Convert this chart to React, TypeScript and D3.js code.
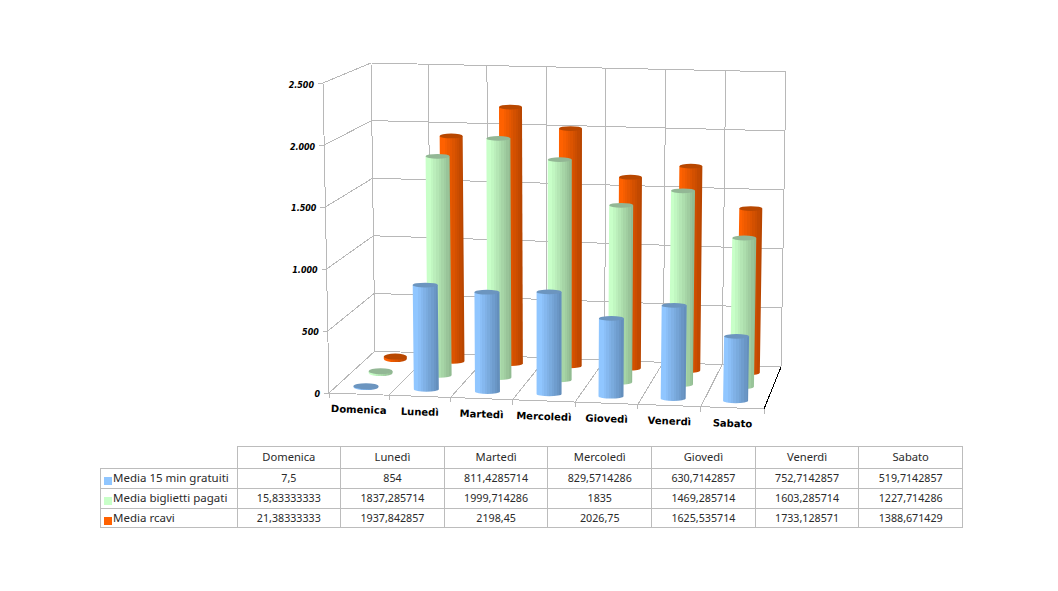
import * as d3 from "d3";

const categories = ["Domenica", "Lunedì", "Martedì", "Mercoledì", "Giovedì", "Venerdì", "Sabato"];
const seriesNames = ["Media 15 min gratuiti", "Media biglietti pagati", "Media rcavi"];

const gratuiti = [7.5, 854, 811.4285714, 829.5714286, 630.7142857, 752.7142857, 519.7142857];
const biglietti = [15.83333333, 1837.285714, 1999.714286, 1835, 1469.285714, 1603.285714, 1227.714286];
const ricavi = [21.38333333, 1937.842857, 2198.45, 2026.75, 1625.535714, 1733.128571, 1388.671429];

// table cells are the raw strings from the sheet (comma decimals)
const gratuitiText = ["7,5", "854", "811,4285714", "829,5714286", "630,7142857", "752,7142857", "519,7142857"];
const bigliettiText = ["15,83333333", "1837,285714", "1999,714286", "1835", "1469,285714", "1603,285714", "1227,714286"];
const ricaviText = ["21,38333333", "1937,842857", "2198,45", "2026,75", "1625,535714", "1733,128571", "1388,671429"];

const valueTicks = [0, 500, 1000, 1500, 2000, 2500];
const tickLabels = ["0", "500", "1.000", "1.500", "2.000", "2.500"];

const seriesValues = [gratuiti, biglietti, ricavi];
const seriesTexts = [gratuitiText, bigliettiText, ricaviText];
const seriesLight = ["#90c6ff", "#c8ffc8", "#ff6100"];
const seriesDark = ["#648fbd", "#92bc92", "#b94600"];
const seriesCap = ["#6c95bf", "#93b795", "#b84700"];

const gridColor = "#b8b8b8";
const tableColor = "#bcbcbc";

// corners of the 3d box as they land on the page
const floor = { fl: [329, 393], fr: [764, 409], bl: [375, 351], br: [781, 367] };
const roof = { fl: [323, 83], fr: [770, 92], bl: [371, 63], br: [786, 72] };

// slight power curve: the right side of the box is nearer to the camera
const xScale = d3.scalePow().exponent(1.018).domain([0, categories.length]).range([0, 1]);
const depthScale = d3.scaleLinear().domain([0, 3]).range([0, 1]);
const yScale = d3.scaleLinear().domain([0, 2500]).range([0, 1]);
const barScale = d3.scaleLinear().domain([0, 2500]).range([0, 2500 * 0.992]);
const band = d3.scaleBand<string>().domain(categories).range([0, categories.length]);
const radius = d3.scaleLinear().domain([0.5, 2.5]).range([12.5, 11.5]);
const tickNudge = d3.scaleLinear().domain([0, 2500]).range([3.5, 5]);

function project(u: number, w: number, v: number): [number, number] {
  const a = xScale(u);
  const b = depthScale(w);
  const c = yScale(v);
  const out = [0, 1].map((i) => {
    const f0 = d3.interpolateNumber(floor.fl[i], floor.fr[i])(a);
    const f1 = d3.interpolateNumber(floor.bl[i], floor.br[i])(a);
    const r0 = d3.interpolateNumber(roof.fl[i], roof.fr[i])(a);
    const r1 = d3.interpolateNumber(roof.bl[i], roof.br[i])(a);
    const bottom = d3.interpolateNumber(f0, f1)(b);
    const top = d3.interpolateNumber(r0, r1)(b);
    return d3.interpolateNumber(bottom, top)(c);
  });
  return [out[0], out[1]];
}

function seg(p: [number, number], q: [number, number], color = gridColor, key?: string) {
  return <line key={key} x1={p[0]} y1={p[1]} x2={q[0]} y2={q[1]} stroke={color} strokeWidth={1} shapeRendering="crispEdges" />;
}

// stepped gradient, the original has visible bands
function bandStops(s: number) {
  const n = 10;
  const light = d3.interpolateRgb(seriesLight[s], seriesDark[s]);
  const stops: any[] = [];
  d3.range(n).forEach((i) => {
    const t = i < 2 ? 0 : (i - 1) / (n - 2);
    stops.push(<stop key={i + "a"} offset={i / n} stopColor={light(t)} />);
    stops.push(<stop key={i + "b"} offset={(i + 1) / n} stopColor={light(t)} />);
  });
  return stops;
}

function Cylinder({ cat, s }: { cat: number; s: number }) {
  const value = seriesValues[s][cat];
  const u = (band(categories[cat]) as number) + band.bandwidth() / 2;
  const w = s + 0.5;
  const [bx, by] = project(u, w, 0);
  const [tx, ty] = project(u, w, barScale(value));
  const rx = radius(w);
  // the near-empty Domenica discs show more of their top
  const ry = value < 100 ? 3 : 2.4;
  const side =
    `M${bx - rx},${by} L${tx - rx},${ty} ` +
    `L${tx + rx},${ty} L${bx + rx},${by} ` +
    `A${rx},${ry} 0 0 1 ${bx - rx},${by} Z`;
  return (
    <g>
      <path d={side} fill={`url(#grad${s})`} />
      <ellipse cx={tx} cy={ty} rx={rx} ry={ry} fill={seriesCap[s]} />
    </g>
  );
}

function Walls() {
  const n = categories.length;
  return (
    <g>
      {valueTicks.map((v) => (
        <g key={v}>
          {seg(project(0, 0, v), project(0, 3, v))}
          {seg(project(0, 3, v), project(n, 3, v))}
          {seg(project(0, 0, v), [project(0, 0, v)[0] - 5, project(0, 0, v)[1]])}
        </g>
      ))}
      {d3.range(n + 1).map((i) => (
        <g key={i}>
          {seg(project(i, 3, 0), project(i, 3, 2500))}
          {seg(project(i, 0, 0), project(i, 3, 0))}
          {seg(project(i, 0, 0), [project(i, 0, 0)[0], project(i, 0, 0)[1] + 5])}
        </g>
      ))}
      {seg(project(0, 0, 0), project(0, 0, 2500))}
      {seg(project(0, 0, 0), project(n, 0, 0))}
      {seg(project(n, 0, 0), project(n, 3, 0), "#000000")}
    </g>
  );
}

function AxisLabels() {
  return (
    <g fontFamily="'DejaVu Sans'" fontWeight="bold" fill="#000">
      {valueTicks.map((v, i) => {
        const [x, y] = project(0, 0, v);
        return (
          <text key={v} x={x - 9} y={y + tickNudge(v)} textAnchor="end" fontSize={8} fontStyle="italic">
            {tickLabels[i]}
          </text>
        );
      })}
      {categories.map((c) => {
        const [x, y] = project((band(c) as number) + band.bandwidth() / 2, 0, 0);
        return (
          <text key={c} x={x} y={y + 19} textAnchor="middle" fontSize={10} transform={`rotate(2 ${x} ${y + 19})`}>
            {c}
          </text>
        );
      })}
    </g>
  );
}

const colEdges = d3.range(categories.length + 1).map((i) => d3.scaleLinear().domain([0, 7]).range([237, 962.5])(i));
const rowEdges = [446, 468, 488, 508, 527];
const tableLeft = 100;

function DataTable() {
  return (
    <g fontFamily="'Noto Sans'" fill="#2a2a2a">
      {rowEdges.map((y, i) => seg([i === 0 ? colEdges[0] : tableLeft, y], [colEdges[7], y], tableColor, "r" + i))}
      {colEdges.map((x, i) => seg([x, rowEdges[0]], [x, rowEdges[4]], tableColor, "c" + i))}
      {seg([tableLeft, rowEdges[1]], [tableLeft, rowEdges[4]], tableColor)}
      {categories.map((c, i) => (
        <text key={c} x={(colEdges[i] + colEdges[i + 1]) / 2} y={rowEdges[0] + 15} textAnchor="middle" fontSize={11.2}>
          {c}
        </text>
      ))}
      {seriesNames.map((name, s) => (
        <g key={name}>
          <rect x={104} y={rowEdges[s + 1] + 9} width={8} height={8} fill={seriesLight[s]} />
          <text x={113} y={rowEdges[s + 1] + 14} fontSize={11.5}>{name}</text>
          {seriesTexts[s].map((t, i) => (
            <text key={i} x={(colEdges[i] + colEdges[i + 1]) / 2} y={rowEdges[s + 1] + 14} textAnchor="middle" fontSize={10.7}>
              {t}
            </text>
          ))}
        </g>
      ))}
    </g>
  );
}

export default function App() {
  return (
    <svg width={1058} height={591} style={{ position: "absolute", left: 0, top: 0, background: "#fff" }}>
      <defs>
        {seriesNames.map((_, s) => (
          <linearGradient key={s} id={`grad${s}`} x1="0" x2="1" y1="0" y2="0">
            {bandStops(s)}
          </linearGradient>
        ))}
      </defs>
      <Walls />
      {[2, 1, 0].map((s) => (
        <g key={s}>
          {categories.map((_, i) => (
            <Cylinder key={i} cat={i} s={s} />
          ))}
        </g>
      ))}
      <AxisLabels />
      <DataTable />
    </svg>
  );
}
